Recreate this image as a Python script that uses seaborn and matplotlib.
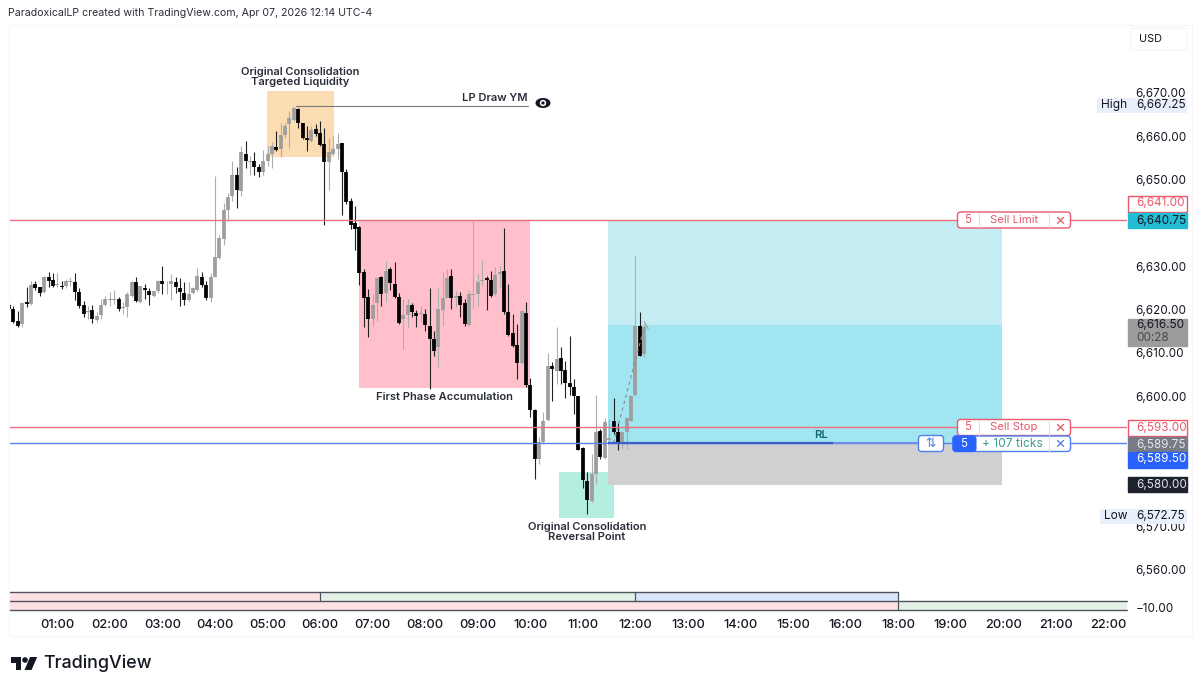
import numpy as np
import pandas as pd
import seaborn as sns
import matplotlib
matplotlib.use("Agg")
import matplotlib.pyplot as plt
from matplotlib.patches import Rectangle, FancyBboxPatch, Polygon, Circle, Ellipse

# ---------- data ----------
opens = [6621.15,6620.05,6617.3,6616.7,6621.7,6621.3,6625.8,6625.1,6624.0,6627.6,6626.75,6625.75,6625.5,6625.35,6626.45,6626.35,6624.05,6621.05,6619.35,6619.8,
 6617.6,6618.85,6621.0,6622.3,6622.3,6622.5,6620.3,6620.5,6623.15,6626.35,6621.75,6625.0,6624.35,6623.2,6624.35,6626.5,6625.8,6625.8,6626.45,6625.0,
 6623.9,6622.3,6623.85,6624.5,6627.6,6625.75,6622.7,6627.6,6632.0,6636.4,6643.0,6646.1,6651.1,6647.25,6655.8,6653.95,6654.25,6652.8,6651.7,6654.3,
 6655.9,6657.55,6657.0,6660.3,6662.8,6663.7,6666.25,6662.95,6659.55,6658.95,6661.65,6660.65,6658.15,6654.15,6655.9,6657.0,6658.4,6651.65,6644.95,6639.9,
 6639.0,6628.75,6622.85,6617.75,6621.6,6627.45,6623.85,6629.35,6625.9,6622.85,6617.75,6618.85,6621.0,6619.3,6619.0,6619.0,6616.25,6613.3,6611.3,6620.0,
 6622.7,6627.85,6622.7,6623.15,6621.6,6616.55,6623.3,6623.6,6626.55,6627.3,6626.85,6623.6,6628.2,6629.0,6619.55,6614.55,6611.8,6607.7,6619.3,
 6602.55,6596.9,6585.6,6589.45,6594.6,6607.1,6605.95,6608.85,6606.1,6603.0,6602.25,6600.0,6588.15,6580.45,6575.75,6582.15,6592.1,6585.7,6590.0,6594.4,
 6591.75,6589.45,6591.75,6594.4,6600.2,6616.3,6609.65]
highs = [6621.7,6620.9,6619.75,6621.7,6625.1,6626.5,6626.7,6625.3,6627.8,6628.6,6628.35,6628.35,6626.7,6627.05,6627.45,6628.35,6625.0,6622.05,6620.9,6621.15,
 6619.35,6622.45,6623.2,6624.0,6624.5,6622.8,6621.7,6624.0,6626.7,6627.6,6625.5,6625.9,6625.0,6624.35,6626.8,6630.05,6626.7,6628.2,6627.45,6627.3,
 6626.3,6626.3,6625.3,6629.6,6628.6,6626.7,6628.35,6650.85,6637.25,6644.7,6646.8,6654.3,6652.8,6657.8,6658.8,6655.45,6656.45,6653.55,6656.8,6657.8,
 6658.55,6661.1,6663.15,6663.15,6665.85,6666.85,6666.45,6663.15,6662.4,6662.4,6662.8,6663.55,6662.0,6659.7,6660.1,6660.85,6658.4,6652.4,6645.75,6643.8,
 6639.3,6629.35,6624.75,6623.6,6627.45,6627.85,6631.15,6629.9,6631.05,6623.75,6622.45,6622.45,6621.45,6619.9,6620.9,6620.15,6625.0,6615.15,6625.0,6628.6,
 6629.35,6629.35,6624.4,6624.0,6622.45,6624.5,6640.5,6628.2,6631.5,6627.85,6629.0,6629.9,6630.15,6638.8,6625.9,6619.0,6616.7,6619.8,6621.7,
 6604.25,6597.1,6590.6,6596.35,6609.95,6607.85,6616.1,6611.3,6608.1,6614.0,6604.0,6600.0,6588.3,6582.5,6586.75,6600.4,6592.5,6595.0,6594.8,6599.6,
 6593.8,6592.1,6595.2,6600.2,6632.65,6619.4,6616.7]
lows = [6619.75,6617.0,6615.9,6616.05,6620.5,6621.15,6624.5,6623.1,6623.75,6625.1,6625.1,6625.1,6624.75,6625.0,6625.5,6622.2,6620.35,6618.2,6617.85,6616.85,
 6617.2,6617.85,6620.85,6620.9,6621.3,6619.75,6619.0,6618.2,6622.8,6621.7,6621.45,6622.45,6621.15,6622.8,6623.9,6623.6,6623.6,6622.2,6623.9,6620.9,
 6621.15,6622.05,6623.6,6624.2,6625.1,6622.2,6621.75,6627.45,6631.65,6635.0,6640.5,6645.0,6643.55,6646.25,6652.65,6651.0,6651.0,6650.6,6651.1,6653.15,
 6652.65,6656.65,6655.1,6659.7,6657.25,6663.55,6662.0,6659.3,6656.5,6658.55,6660.1,6657.8,6639.5,6647.65,6655.7,6654.7,6641.9,6644.35,6638.6,6633.75,
 6625.75,6615.9,6613.6,6616.3,6617.45,6620.9,6621.7,6624.5,6622.7,6616.7,6610.95,6615.9,6618.25,6616.1,6617.1,6615.15,6601.7,6609.4,6606.85,6616.3,
 6622.7,6620.15,6620.55,6618.25,6616.15,6616.3,6620.4,6620.9,6625.5,6619.9,6622.85,6623.2,6625.15,6619.0,6614.0,6611.3,6604.0,6607.5,6602.1,
 6595.2,6581.0,6584.45,6589.05,6594.4,6598.9,6602.9,6602.9,6599.65,6600.2,6596.0,6587.5,6578.9,6572.75,6575.6,6579.85,6585.45,6585.6,6589.5,6591.35,
 6587.65,6587.9,6587.9,6594.25,6600.1,6609.2,6609.0]
closes = [6620.15,6617.15,6616.3,6621.45,6621.3,6625.6,6625.0,6623.9,6627.6,6626.7,6625.35,6625.9,6625.3,6626.6,6626.7,6624.05,6620.85,6619.0,6619.75,6617.75,
 6618.6,6621.15,6622.35,6622.45,6622.5,6620.2,6620.5,6623.6,6626.35,6622.05,6625.35,6624.5,6623.3,6624.3,6626.5,6625.9,6626.0,6626.5,6625.1,6624.0,
 6622.3,6623.6,6625.0,6627.65,6625.6,6622.6,6627.6,6632.2,6636.5,6643.0,6646.0,6651.1,6647.55,6656.4,6654.3,6654.25,6652.8,6651.7,6654.3,6656.0,
 6657.8,6656.8,6660.3,6662.25,6664.15,6666.45,6663.15,6659.5,6659.1,6661.4,6660.5,6658.05,6654.15,6656.4,6657.1,6658.3,6651.65,6644.9,6639.6,6638.6,
 6628.35,6622.6,6617.75,6621.15,6627.2,6623.6,6629.0,6626.05,6623.0,6617.0,6618.75,6621.15,6619.55,6618.6,6619.2,6616.55,6613.25,6610.55,6620.1,6622.7,
 6627.3,6622.6,6623.2,6621.15,6616.7,6623.6,6623.6,6626.35,6626.85,6626.85,6623.2,6628.05,6628.65,6619.4,6614.2,6611.7,6607.65,6619.6,6602.7,
 6596.75,6585.6,6589.45,6594.4,6607.1,6606.25,6608.5,6605.95,6603.0,6602.25,6600.0,6587.65,6580.6,6576.0,6582.15,6591.75,6586.0,6594.05,6590.3,6591.75,
 6588.9,6591.75,6595.0,6600.0,6616.3,6609.4,6616.1]

price_ticks = [6670, 6660, 6650, 6630, 6620, 6610, 6600, 6570, 6560]
hour_labels = ["01:00","02:00","03:00","04:00","05:00","06:00","07:00","08:00","09:00","10:00","11:00",
               "12:00","13:00","14:00","15:00","16:00","18:00","19:00","20:00","21:00","22:00"]
hour_bars = [11 + 12 * k for k in range(len(hour_labels))]

sell_limit = 6640.75
sell_stop = 6593.0
entry = 6589.25
target_mid = 6616.5
stop_low = 6579.6

sess_top = [(0, 71, "#fde1e3"), (71, 143, "#e3f2e6"), (143, 203, "#d9e6fb")]
sess_bot = [(0, 203, "#fde1e3"), (203, 256, "#e3f2e6")]

# ---------- frame ----------
W, H = 1200, 690
sns.set_theme(style="white")
plt.rcParams["font.family"] = ["Inter", "DejaVu Sans"]
fig = plt.figure(figsize=(12, 6.9), dpi=100, facecolor="white")

def rect(l, t, r, b):
    return [l / W, 1 - b / H, (r - l) / W, (b - t) / H]

X0, DX = 9.1, 4.38
xlim = ((9 - X0) / DX, (1127 - X0) / DX)
def py(yp):
    return 6600 + (396.3 - yp) / 4.335

PF = 8.45  # price-scale font size

# full-figure overlay in pixels
ov = fig.add_axes([0, 0, 1, 1], zorder=5)
ov.set_xlim(0, W); ov.set_ylim(H, 0); ov.axis("off"); ov.patch.set_alpha(0)

ax = fig.add_axes(rect(9, 26, 1127, 586), zorder=2)
ax.set_xlim(*xlim); ax.set_ylim(py(586), py(26))
ax.patch.set_alpha(0)

# zones
def zone(a, l, r, lo, hi, c, z=1):
    a.add_patch(Rectangle((l, lo), r - l, hi - lo, fc=c, ec="none", zorder=z))
zone(ax, 58.8, 74.2, 6655.3, 6670.4, "#fbdcb3")
zone(ax, 79.8, 119.0, 6601.8, sell_limit, "#ffc0cb")
zone(ax, 125.6, 138.0, 6572.0, 6582.6, "#b4eee0")
zone(ax, 136.8, 226.7, target_mid, sell_limit, "#c5eef4")
zone(ax, 136.8, 226.7, entry, target_mid, "#a0e5ef")
zone(ax, 136.8, 226.7, stop_low, entry, "#cfd0d2")

# candles
df = pd.DataFrame({"i": np.arange(len(opens)), "o": opens, "h": highs, "l": lows, "c": closes})
df["dir"] = np.where(df.c >= df.o, "up", "down")
wick = df.melt(id_vars=["i", "dir"], value_vars=["h", "l"], value_name="p")
body = df.melt(id_vars=["i", "dir"], value_vars=["o", "c"], value_name="p")
sns.lineplot(data=wick, x="i", y="p", hue="dir", units="i", estimator=None, ax=ax, legend=False,
             palette={"up": "#aeaeae", "down": "#222222"}, lw=0.8, zorder=3, solid_capstyle="butt")
sns.lineplot(data=body, x="i", y="p", hue="dir", units="i", estimator=None, ax=ax, legend=False,
             palette={"up": "#9e9e9e", "down": "#000000"}, lw=2.7, zorder=4, solid_capstyle="butt")

# order lines
ax.axhline(sell_limit, color="#ef6f7f", lw=1.0, zorder=6)
ax.axhline(sell_stop, color="#ef6f7f", lw=1.0, zorder=6)
ax.axhline(entry, color="#5b83f0", lw=1.0, zorder=6)
ax.plot([136.8, 188], [entry, entry], color="#3f5fc8", lw=1.6, zorder=6, solid_capstyle="butt")
ax.plot([188, 208], [entry, entry], color="#6d8cec", lw=1.5, zorder=6, solid_capstyle="butt")

# dashed trade path
ax.plot([138, 145], [entry, target_mid - 0.5], color="#8a8a8a", lw=0.8, ls=(0, (3, 3)), zorder=5)
ax.plot([145, 145.9], [6617.2, 6615.6], color="#9a9a9a", lw=0.8, zorder=5)

# LP line
ax.plot([65.5, 118.5], [6666.9, 6666.9], color="#777777", lw=0.8, zorder=5)

# price axis
ax.yaxis.tick_right()
ax.set_yticks(price_ticks)
ax.set_yticklabels([f"{p:,.2f}" for p in price_ticks], fontsize=PF, color="#131722")
ax.tick_params(axis="y", length=0, pad=6)
ax.set_xticks([]); ax.set_xlabel(""); ax.set_ylabel("")
for s in ax.spines.values():
    s.set_visible(False)

# session panel
sp = fig.add_axes(rect(9, 591.5, 1127, 609.5), zorder=2)
sp.set_xlim(*xlim); sp.set_ylim(0, 2); sp.axis("off")
for l, r, c in sess_top:
    sp.barh(1.5, r - l, left=l, height=1, color=c, lw=0)
for l, r, c in sess_bot:
    sp.barh(0.5, r - l, left=l, height=1, color=c, lw=0)
lc = "#50535e"
sp.plot([xlim[0], 203], [2, 2], color=lc, lw=1.0, clip_on=False)
sp.plot([xlim[0], xlim[1]], [1, 1], color=lc, lw=1.0, clip_on=False)
sp.plot([xlim[0], xlim[1]], [0, 0], color=lc, lw=1.0, clip_on=False)
for b in [71, 143]:
    sp.plot([b, b], [1, 2], color=lc, lw=0.9)
sp.plot([203, 203], [0, 2], color=lc, lw=0.9)

# time axis
for b, t in zip(hour_bars, hour_labels):
    ov.text(X0 + DX * b, 625, t, ha="center", va="center", fontsize=9.2, color="#131722", fontweight="medium")

# chart frame
for seg in ([(8.5, 26), (8.5, 636)], [(8.5, 636), (1192, 636)], [(1192, 26), (1192, 636)], [(8.5, 25), (1192, 25)]):
    ov.plot(*zip(*seg), color="#f6f6f8", lw=0.8)

# header
ov.text(8, 13, "ParadoxicalLP created with TradingView.com, Apr 07, 2026 12:14 UTC-4",
        ha="left", va="center", fontsize=7.62, color="#2a2e39")

# annotations
ann = "#2a2e39"
ov.text(300, 77, "Original Consolidation\nTargeted Liquidity", ha="center", va="center", fontsize=8,
        fontweight="semibold", color=ann, linespacing=0.95)
ov.text(495, 98, "LP Draw YM", ha="center", va="center", fontsize=8, fontweight="semibold", color=ann)
ov.text(444.5, 397, "First Phase Accumulation", ha="center", va="center", fontsize=8, fontweight="semibold", color=ann)
ov.text(587, 532, "Original Consolidation\nReversal Point", ha="center", va="center", fontsize=8,
        fontweight="semibold", color=ann, linespacing=0.95)
ov.text(821, 435.5, "RL", ha="center", va="center", fontsize=8, fontweight="semibold", color="#11666e")

# eye icon
ov.add_patch(Ellipse((543, 103), 15, 10, fc="#131722", ec="none"))
ov.add_patch(Circle((543, 103), 3.2, fc="white", ec="none"))
ov.add_patch(Circle((543, 103), 1.6, fc="#131722", ec="none"))

# price tags
def tag(t, b, txt, fc, tc, ec=None, sub=None):
    ov.add_patch(Rectangle((1128, t), 59, b - t, fc=fc, ec=ec or fc, lw=1.0, zorder=6))
    if sub:
        ov.text(1136, t + 6.5, txt, ha="left", va="center", fontsize=PF, color=tc, zorder=7)
        ov.text(1136, t + 19.3, sub, ha="left", va="center", fontsize=PF, color="#4a4a4a", zorder=7)
    else:
        ov.text(1136, (t + b) / 2, txt, ha="left", va="center", fontsize=PF, color=tc, zorder=7)

red = "#e8596c"
tag(195.5, 211.5, "6,641.00", "white", red, red)
tag(213, 228, "6,640.75", "#24bcd3", "#131722")
tag(318.5, 346, "6,616.50", "#9c9c9c", "#131722", sub="00:28")
tag(420, 435.5, "6,593.00", "white", red, red)
tag(437, 452, "6,589.75", "#787b86", "#e6e6e6")
tag(451.5, 467.5, "6,589.50", "#2962ff", "white")
tag(477, 492, "6,580.00", "#1e222d", "#e0e3eb")

# high / low tags
for t, lab, val, l in [(98, "High", "6,667.25", 1096.5), (509, "Low", "6,572.75", 1099.5)]:
    ov.add_patch(Rectangle((l, t), 1187 - l, 14.5, fc="#e9f0fb", ec="none", zorder=4))
    ov.text(l + 4.5, t + 7.2, lab, ha="left", va="center", fontsize=8.6, color="#131722", zorder=7)
    ov.text(1136, t + 7.2, val, ha="left", va="center", fontsize=PF, color="#131722", zorder=7)

# order boxes
def box(l, r, t, b, ec):
    ov.add_patch(FancyBboxPatch((l + 2, t + 2), r - l - 4, b - t - 4, boxstyle="round,pad=2,rounding_size=3",
                                fc="white", ec=ec, lw=1.0, zorder=6))

def order(t, b, name):
    box(957.5, 1070.5, t, b, red)
    for x in (979, 1049):
        ov.plot([x, x], [t + 1, b - 1], color="#f4d5d9", lw=0.8, zorder=7)
    ov.text(968, (t + b) / 2, "5", ha="center", va="center", fontsize=8.4, color=red, zorder=8)
    ov.text(1014, (t + b) / 2, name, ha="center", va="center", fontsize=8.2, color=red, zorder=8)
    ov.text(1059.5, (t + b) / 2, "\u00d7", ha="center", va="center", fontsize=12, color=red, zorder=8)

order(212, 228, "Sell Limit")
order(419.5, 435.5, "Sell Stop")

blue = "#2962ff"
box(953, 1070.5, 436, 451.5, "#4f7ff0")
ov.add_patch(FancyBboxPatch((955, 438), 19, 11.5, boxstyle="round,pad=2,rounding_size=3", fc=blue, ec=blue, lw=0.8, zorder=7))
ov.add_patch(Rectangle((966, 436.2), 9, 15.2, fc=blue, ec="none", zorder=7))
ov.text(964, 443.8, "5", ha="center", va="center", fontsize=8.4, color="white", zorder=8)
ov.text(1012, 443.8, "+ 107 ticks", ha="center", va="center", fontsize=8.6, color="#3f9e8c", zorder=8)
ov.plot([1049, 1049], [437, 451], color="#dbe4fa", lw=0.8, zorder=7)
ov.text(1059.5, 443.8, "\u00d7", ha="center", va="center", fontsize=12, color="#4f7ff0", zorder=8)
box(918.5, 943.5, 435.5, 451.5, "#4f7ff0")
ov.text(931, 443.5, "\u21c5", ha="center", va="center", fontsize=9, color="#4f7ff0", zorder=8, family="DejaVu Sans")

# USD box
ov.add_patch(FancyBboxPatch((1133, 30), 52, 18, boxstyle="round,pad=2,rounding_size=3", fc="white", ec="#f3f5fa", lw=0.8, zorder=6))
ov.text(1139, 39, "USD", ha="left", va="center", fontsize=7.8, color="#131722", zorder=7)

# −10.00 clipped tick
ov.text(1136, 609.5, "\u221210.00", ha="left", va="center", fontsize=PF, color="#131722", zorder=6)
ov.add_patch(Rectangle((1130, 613), 55, 8, fc="white", ec="none", zorder=6.5))

# TradingView logo
ov.add_patch(Polygon([(10.5, 657), (21, 657), (21, 670), (15.5, 670), (15.5, 662.5), (10.5, 662.5)], fc="#131722", ec="none"))
ov.add_patch(Circle((25, 660), 2.8, fc="#131722", ec="none"))
ov.add_patch(Polygon([(30, 657), (37.2, 657), (31.5, 670), (24.5, 670)], fc="#131722", ec="none"))
ov.text(43, 663.5, "TradingView", ha="left", va="center", fontsize=12.9, fontweight="medium", color="#131722")

fig.savefig("out.png", dpi=100)
